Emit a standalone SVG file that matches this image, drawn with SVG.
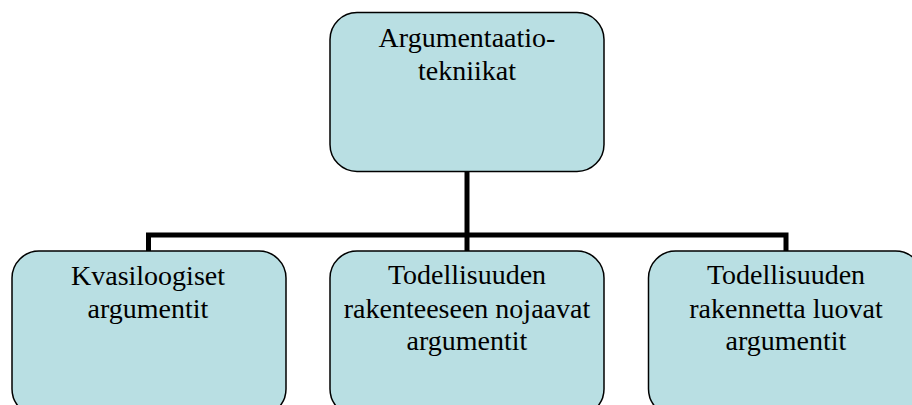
<svg xmlns="http://www.w3.org/2000/svg" width="912" height="405" viewBox="0 0 912 405">
<style>
.box{fill:#B9DFE3;stroke:#000;stroke-width:1.5}
.t{font-size:28px;fill:#000;text-anchor:middle}
.c{fill:none;stroke:#000;stroke-width:5}
</style>
<rect width="912" height="405" fill="#fff"/>
<g id="connectors">
<line class="c" x1="467" y1="172" x2="467" y2="251"/>
<polyline class="c" points="148.5,251 148.5,235 786,235 786,251"/>
</g>
<g font-family="Liberation Serif, DejaVu Serif, serif">
<g id="top">
<rect class="box" x="330" y="12.5" width="274" height="159" rx="27"/>
<text class="t" x="467" y="47">Argumentaatio-</text>
<text class="t" x="467" y="80">tekniikat</text>
</g>
<g id="left">
<rect class="box" x="12" y="251" width="274" height="165" rx="27"/>
<text class="t" x="148" y="285">Kvasiloogiset</text>
<text class="t" x="148" y="318">argumentit</text>
</g>
<g id="middle">
<rect class="box" x="330" y="251" width="274" height="165" rx="27"/>
<text class="t" x="467" y="284">Todellisuuden</text>
<text class="t" x="467" y="318">rakenteeseen nojaavat</text>
<text class="t" x="467" y="350">argumentit</text>
</g>
<g id="right">
<rect class="box" x="648.5" y="251" width="274" height="165" rx="27"/>
<text class="t" x="786" y="284">Todellisuuden</text>
<text class="t" x="786" y="318">rakennetta luovat</text>
<text class="t" x="786" y="350">argumentit</text>
</g>
</g>
</svg>
